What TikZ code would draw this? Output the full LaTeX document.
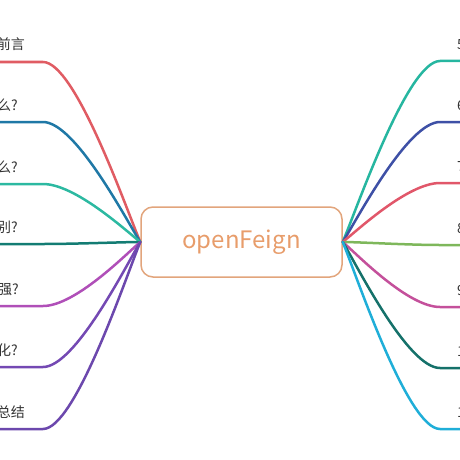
\documentclass[tikz,border=0pt]{standalone}
\usepackage{fontspec}
\usepackage{xcolor}
\newfontfamily\cjk{Noto Sans CJK SC}
\definecolor{rootcol}{HTML}{E89D6B}
\definecolor{rootline}{HTML}{E2A57C}
\definecolor{labelcol}{HTML}{333333}
\definecolor{lA}{HTML}{E05C63}
\definecolor{lB}{HTML}{1F78A6}
\definecolor{lC}{HTML}{2CB9A1}
\definecolor{lD}{HTML}{137C73}
\definecolor{lE}{HTML}{B04FB8}
\definecolor{lF}{HTML}{7449B3}
\definecolor{lG}{HTML}{6C48AD}
\definecolor{rA}{HTML}{26B6A0}
\definecolor{rB}{HTML}{3E50A6}
\definecolor{rC}{HTML}{E1576A}
\definecolor{rD}{HTML}{7EB75B}
\definecolor{rE}{HTML}{C4509B}
\definecolor{rF}{HTML}{15716A}
\definecolor{rG}{HTML}{1FAED8}
\tikzset{
  rootbox/.style={draw=rootline, line width=1.5pt, rounded corners=12pt, fill=white,
    minimum width=201pt, minimum height=70pt, font=\cjk\fontsize{24}{28}\selectfont, text=rootcol},
  leaf/.style={font=\cjk\fontsize{14}{16}\selectfont, text=labelcol, inner sep=0pt},
  branch/.style={line width=2.5pt, line cap=round},
}

\begin{document}
\begin{tikzpicture}[x=1pt, y=-1pt]
	\useasboundingbox (0,0) rectangle (460,460);
	\node[rootbox] (root) at (241.5,242) {openFeign};
	% left side
	\coordinate (b1) at (43,62);
	\coordinate (b2) at (43,122);
	\coordinate (b3) at (43,184);
	\coordinate (b4) at (43,244);
	\coordinate (b5) at (43,306);
	\coordinate (b6) at (43,367);
	\coordinate (b7) at (43,429);
	% right side
	\coordinate (c1) at (440,61);
	\coordinate (c2) at (440,122);
	\coordinate (c3) at (440,183);
	\coordinate (c4) at (440,245);
	\coordinate (c5) at (440,307);
	\coordinate (c6) at (440,368);
	\coordinate (c7) at (440,429);

	\draw[branch, lA] (root.west) .. controls +(-15,-36) and +(32,0) .. (b1) -- ++(-60,0);
	\draw[branch, lB] (root.west) .. controls +(-15,-24) and +(32,0) .. (b2) -- ++(-60,0);
	\draw[branch, lC] (root.west) .. controls +(-15,-12) and +(32,0) .. (b3) -- ++(-60,0);
	\draw[branch, lD] (root.west) .. controls +(-15,0) and +(32,0) .. (b4) -- ++(-60,0);
	\draw[branch, lE] (root.west) .. controls +(-15,13) and +(32,0) .. (b5) -- ++(-60,0);
	\draw[branch, lF] (root.west) .. controls +(-15,25) and +(32,0) .. (b6) -- ++(-60,0);
	\draw[branch, lG] (root.west) .. controls +(-15,37) and +(32,0) .. (b7) -- ++(-60,0);

	\draw[branch, rA] (root.east) .. controls +(15,-36) and +(-32,0) .. (c1) -- ++(60,0);
	\draw[branch, rB] (root.east) .. controls +(15,-24) and +(-32,0) .. (c2) -- ++(60,0);
	\draw[branch, rC] (root.east) .. controls +(15,-12) and +(-32,0) .. (c3) -- ++(60,0);
	\draw[branch, rD] (root.east) .. controls +(15,0) and +(-32,0) .. (c4) -- ++(60,0);
	\draw[branch, rE] (root.east) .. controls +(15,13) and +(-32,0) .. (c5) -- ++(60,0);
	\draw[branch, rF] (root.east) .. controls +(15,25) and +(-32,0) .. (c6) -- ++(60,0);
	\draw[branch, rG] (root.east) .. controls +(15,37) and +(-32,0) .. (c7) -- ++(60,0);

	\node[leaf, anchor=base east] (t1) at ([shift={(-18,-12)}]b1) {前言};
	\node[leaf, anchor=base east] (t2) at ([shift={(-25,-12)}]b2) {么?};
	\node[leaf, anchor=base east] (t3) at ([shift={(-25,-12)}]b3) {么?};
	\node[leaf, anchor=base east] (t4) at ([shift={(-25,-12)}]b4) {别?};
	\node[leaf, anchor=base east] (t5) at ([shift={(-24,-12)}]b5) {强?};
	\node[leaf, anchor=base east] (t6) at ([shift={(-25,-12)}]b6) {化?};
	\node[leaf, anchor=base east] (t7) at ([shift={(-18,-12)}]b7) {总结};

	\node[leaf, anchor=base west] (u1) at ([shift={(17,-12)}]c1) {5};
	\node[leaf, anchor=base west] (u2) at ([shift={(17,-12)}]c2) {6};
	\node[leaf, anchor=base west] (u3) at ([shift={(17,-12)}]c3) {7};
	\node[leaf, anchor=base west] (u4) at ([shift={(17,-12)}]c4) {8};
	\node[leaf, anchor=base west] (u5) at ([shift={(17,-12)}]c5) {9};
	\node[leaf, anchor=base west] (u6) at ([shift={(17,-12)}]c6) {1};
	\node[leaf, anchor=base west] (u7) at ([shift={(17,-12)}]c7) {1};
\end{tikzpicture}
\end{document}
